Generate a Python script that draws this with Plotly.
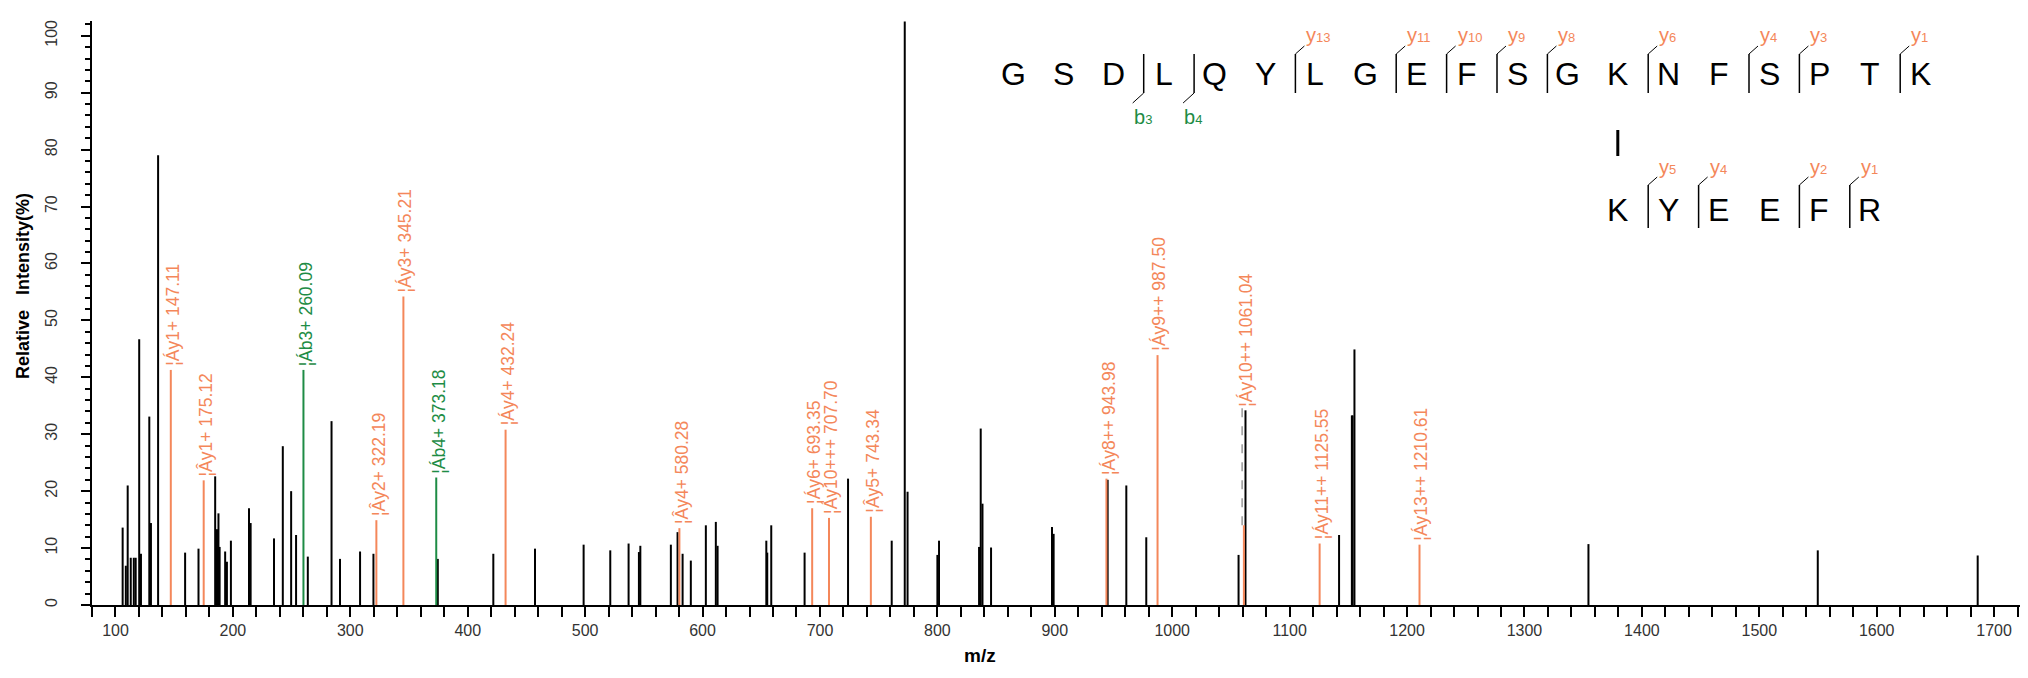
import plotly.graph_objects as go

# ---------------- data ----------------
peak_mz = [106.1, 108.8, 110.4, 113.0, 115.6, 117.2, 120.2, 121.7, 128.8, 130.2,
           136.3, 159.3, 170.7, 184.9, 185.8, 186.9, 187.7, 188.7, 193.4, 194.9,
           198.3, 213.7, 215.1, 235.0, 242.5, 249.6, 253.8, 263.8, 284.0, 291.2,
           308.3, 319.7, 374.5, 421.8, 457.3, 498.7, 521.4, 537.0, 545.8, 547.0,
           573.0, 578.7, 583.0, 590.0, 602.8, 611.3, 612.8, 654.3, 655.1, 658.5,
           686.9, 723.9, 761.1, 772.2, 774.6, 800.0, 801.4, 835.5, 836.9, 838.4,
           845.7, 897.6, 899.0, 945.0, 960.9, 977.9, 1056.5, 1062.4, 1142.1, 1153.0,
           1153.6, 1155.2, 1354.5, 1549.8, 1686.0]
peak_int = [13.6, 6.9, 21.0, 8.3, 8.3, 8.3, 46.7, 9.0, 33.1, 14.4,
            79.0, 9.2, 9.9, 22.6, 13.3, 13.3, 16.1, 10.2, 9.4, 7.6,
            11.3, 17.0, 14.4, 11.7, 27.9, 20.0, 12.3, 8.5, 32.3, 8.1,
            9.4, 9.0, 8.1, 9.0, 9.9, 10.6, 9.6, 10.8, 9.3, 10.4,
            10.6, 12.8, 9.0, 7.8, 14.0, 14.6, 10.4, 11.3, 9.2, 14.0,
            9.2, 22.2, 11.3, 102.5, 19.9, 8.8, 11.3, 10.2, 31.0, 17.8,
            10.1, 13.7, 12.5, 22.0, 21.0, 11.9, 8.8, 34.2, 12.3, 33.3,
            33.3, 44.9, 10.7, 9.6, 8.7]

y_ion_mz = [147.11, 175.12, 322.19, 345.21, 432.24, 580.28, 693.35, 707.70,
            743.34, 943.98, 987.50, 1061.04, 1125.55, 1210.61]
y_ion_int = [41.3, 21.9, 14.9, 54.2, 30.8, 13.5, 17.0, 15.3,
             15.5, 22.2, 43.9, 14.0, 10.8, 10.6]
y_ion_labels = ["¦Áy1+", "¦Ây1+", "¦Ây2+", "¦Áy3+", "¦Áy4+", "¦Ây4+", "¦Áy6+",
                "¦Áy10+++", "¦Ây5+", "¦Áy8++", "¦Áy9++", "¦Áy10++", "¦Áy11++",
                "¦Áy13++"]

b_ion_mz = [260.09, 373.18]
b_ion_int = [41.3, 22.4]
b_ion_labels = ["¦Áb3+", "¦Áb4+"]

alpha_seq = "GSDLQYLGEFSGKNFSPTK"
beta_seq = "KYEEFR"
alpha_y_frag = [13, 11, 10, 9, 8, 6, 4, 3, 1]
alpha_b_frag = [3, 4]
beta_y_frag = [5, 4, 2, 1]
link_site = 12

x_ticks = list(range(100, 1701, 100))
y_ticks = list(range(0, 101, 10))

# ---------------- style ----------------
ORANGE = "#F4875A"
GREEN = "#1E8C45"
W, H = 2028, 678
ML, MR, MT, MB = 84, 9, 13, 81
PW, PH = W - ML - MR, H - MT - MB


def px(x):
    return (x - ML) / PW


def py(y):
    return (H - MB - y) / PH


def stems(xs, ys):
    sx, sy = [], []
    for x, y in zip(xs, ys):
        sx += [x, x, None]
        sy += [0, y, None]
    return sx, sy


fig = go.Figure()
bx, by = stems(peak_mz, peak_int)
fig.add_trace(go.Scatter(x=bx, y=by, mode="lines", line=dict(color="black", width=2),
                         hoverinfo="skip", showlegend=False))
ox, oy = stems(y_ion_mz, y_ion_int)
fig.add_trace(go.Scatter(x=ox, y=oy, mode="lines", line=dict(color=ORANGE, width=2),
                         hoverinfo="skip", showlegend=False))
gx, gy = stems(b_ion_mz, b_ion_int)
fig.add_trace(go.Scatter(x=gx, y=gy, mode="lines", line=dict(color=GREEN, width=2),
                         hoverinfo="skip", showlegend=False))

annotations = []


def label_base(x, v):
    base = v
    for m, i in zip(peak_mz, peak_int):
        if abs(m - x) <= 2.0:
            base = max(base, i)
    return base


for xs, vs, labs, col in [(y_ion_mz, y_ion_int, y_ion_labels, ORANGE),
                          (b_ion_mz, b_ion_int, b_ion_labels, GREEN)]:
    for x, v, lab in zip(xs, vs, labs):
        base = label_base(x, v)
        if base > v:
            fig.add_trace(go.Scatter(x=[x - 1.5, x - 1.5], y=[v, base + 0.6], mode="lines",
                                     line=dict(color="#999999", width=1.5, dash="dash"),
                                     hoverinfo="skip", showlegend=False))
        annotations.append(dict(x=x, y=base, xref="x", yref="y", text=f"{lab} {x:.2f}",
                                textangle=-90, showarrow=False, xanchor="center",
                                yanchor="bottom", yshift=2, xshift=2,
                                font=dict(family="Liberation Sans, Arial", size=17.5, color=col)))

# ---------------- sequence drawing ----------------
SX0, SDX = 1005, 50.4
ROW1, ROW2 = 66, 202
shapes = []


def seq_x(i):
    return SX0 + SDX * i


def add_line(x0, y0, x1, y1, w=1.5, color="black"):
    shapes.append(dict(type="line", xref="paper", yref="paper", x0=px(x0), y0=py(y0),
                       x1=px(x1), y1=py(y1), line=dict(color=color, width=w)))


def frag_label(x, y, letter, num, color, anchor="left"):
    annotations.append(dict(x=px(x), y=py(y), xref="paper", yref="paper",
                            text=f"{letter}<span style='font-size:13px'>{num}</span>",
                            showarrow=False, xanchor=anchor, yanchor="middle",
                            font=dict(family="Liberation Sans, Arial", size=20, color=color)))


for i, ch in enumerate(alpha_seq):
    annotations.append(dict(x=px(seq_x(i)), y=py(ROW1), xref="paper", yref="paper", text=ch,
                            showarrow=False, xanchor="center", yanchor="middle",
                            font=dict(family="Liberation Sans, Arial", size=32, color="black")))
for j, ch in enumerate(beta_seq):
    annotations.append(dict(x=px(seq_x(link_site + j)), y=py(ROW2), xref="paper", yref="paper",
                            text=ch, showarrow=False, xanchor="center", yanchor="middle",
                            font=dict(family="Liberation Sans, Arial", size=32, color="black")))

# crosslink bar
add_line(seq_x(link_site), 122, seq_x(link_site), 148, w=3)

n_a = len(alpha_seq)
for n in alpha_y_frag:
    lx = seq_x(n_a - n) - 20
    add_line(lx, 46, lx, 85)
    add_line(lx, 46, lx + 9, 38, w=1)
    frag_label(lx + 9, 27, "y", n, ORANGE)
for n in alpha_b_frag:
    lx = seq_x(n) - 20.5
    add_line(lx, 46, lx, 85)
    add_line(lx, 85, lx - 11, 95, w=1)
    frag_label(lx - 12, 109, "b", n, GREEN)
n_b = len(beta_seq)
for n in beta_y_frag:
    lx = seq_x(link_site + n_b - n) - 20
    add_line(lx, 177, lx, 220)
    add_line(lx, 177, lx + 9, 169, w=1)
    frag_label(lx + 9, 159, "y", n, ORANGE)

# axis titles
annotations.append(dict(x=px(972), y=py(647), xref="paper", yref="paper", text="<b>m/z</b>",
                        showarrow=False, xanchor="center", yanchor="middle",
                        font=dict(family="Liberation Sans, Arial", size=19, color="black")))
annotations.append(dict(x=px(15), y=py(278), xref="paper", yref="paper",
                        text="<b>Relative\u00a0\u00a0\u00a0Intensity(%)</b>", textangle=-90,
                        showarrow=False, xanchor="center", yanchor="middle",
                        font=dict(family="Liberation Sans, Arial", size=18, color="black")))

fig.update_layout(
    width=W, height=H, margin=dict(l=ML, r=MR, t=MT, b=MB),
    plot_bgcolor="white", paper_bgcolor="white",
    annotations=annotations, shapes=shapes, showlegend=False,
    xaxis=dict(range=[80, 1728], tickvals=x_ticks, ticktext=[str(t) for t in x_ticks],
               ticks="outside", ticklen=10, tickwidth=2, tickcolor="black",
               minor=dict(dtick=20, tick0=0, ticks="outside", ticklen=10, tickwidth=2,
                          tickcolor="black"),
               showline=True, linecolor="black", linewidth=2, showgrid=False, zeroline=False,
               tickfont=dict(family="Liberation Sans, Arial", size=16, color="#333333")),
    yaxis=dict(range=[0, 102.6], tickvals=y_ticks, ticktext=[str(t) for t in y_ticks],
               ticks="outside", ticklen=9, tickwidth=2, tickcolor="black", tickangle=-90,
               ticklabelstandoff=18,
               minor=dict(dtick=2, tick0=0, ticks="outside", ticklen=5, tickwidth=2,
                          tickcolor="black"),
               showline=True, linecolor="black", linewidth=2, showgrid=False, zeroline=False,
               tickfont=dict(family="Liberation Sans, Arial", size=16, color="#333333")),
)

fig.write_html("out.html")
